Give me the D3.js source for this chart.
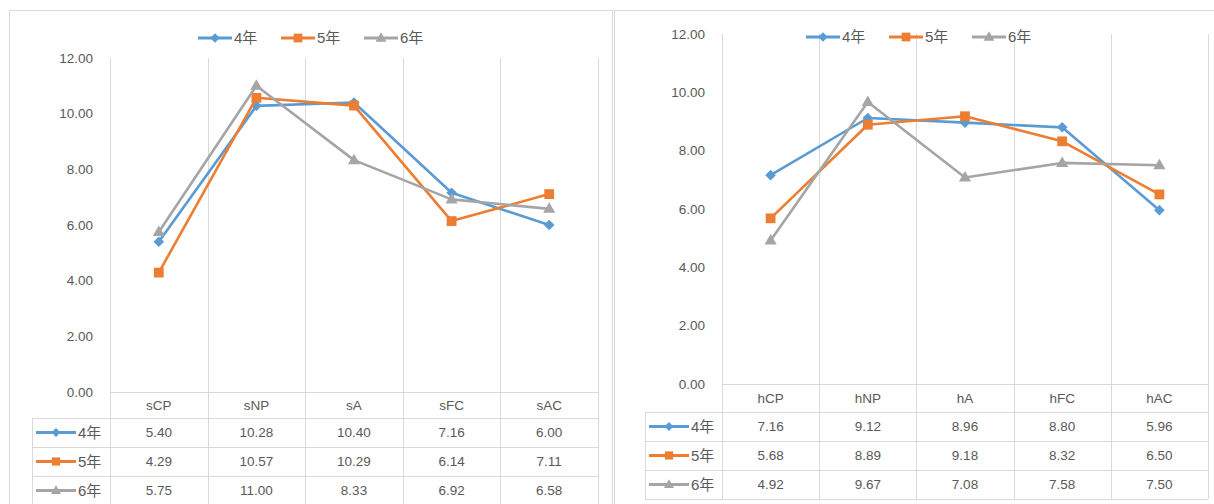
<!DOCTYPE html>
<html>
<head>
<meta charset="utf-8">
<script src="https://cdn.jsdelivr.net/npm/d3@7"></script>
<style>
  html, body { margin: 0; padding: 0; background: #ffffff; }
  svg { display: block; }
  text { font-family: "Liberation Sans", "Noto Sans CJK SC", sans-serif; fill: #595959; }
</style>
</head>
<body>
<svg id="chart" width="1214" height="504"></svg>
<script>
// Categories for the two panels
const categoriesS = ["sCP", "sNP", "sA", "sFC", "sAC"];
const categoriesH = ["hCP", "hNP", "hA", "hFC", "hAC"];

// Series names (grade)
const seriesNames = ["4年", "5年", "6年"];

// Values: s-panel
const s4 = [5.40, 10.28, 10.40, 7.16, 6.00];
const s5 = [4.29, 10.57, 10.29, 6.14, 7.11];
const s6 = [5.75, 11.00, 8.33, 6.92, 6.58];

// Values: h-panel
const h4 = [7.16, 9.12, 8.96, 8.80, 5.96];
const h5 = [5.68, 8.89, 9.18, 8.32, 6.50];
const h6 = [4.92, 9.67, 7.08, 7.58, 7.50];

// Value axis ticks
const yTicks = [0, 2, 4, 6, 8, 10, 12];

const colors = ["#5B9BD5", "#ED7D31", "#A5A5A5"];
const shapes = ["diamond", "square", "triangle"];
const gridColor = "#D9D9D9";

const svg = d3.select("#chart");

function markerPath(shape, scale) {
  const k = scale || 1;
  if (shape === "diamond") return d3.symbol(d3.symbolSquare, 56 * k)();
  if (shape === "square") return d3.symbol(d3.symbolSquare, 96 * k)();
  return d3.symbol(d3.symbolTriangle, 64 * k)();
}
function markerRotate(shape) { return shape === "diamond" ? " rotate(45)" : ""; }

function drawMarker(g, shape, color, x, y, scale) {
  const dy = shape === "triangle" ? 0.5 : 0;
  g.append("path")
    .attr("d", markerPath(shape, scale))
    .attr("transform", `translate(${x},${y + dy})` + markerRotate(shape))
    .attr("fill", color);
}

function drawPanel(cfg) {
  const g = svg.append("g");

  // panel frame
  g.append("rect")
    .attr("x", cfg.frame[0] + 0.5).attr("y", cfg.frame[1] + 0.5)
    .attr("width", cfg.frame[2]).attr("height", cfg.frame[3])
    .attr("fill", "none").attr("stroke", gridColor).attr("stroke-width", 1);

  const x = d3.scaleBand().domain(cfg.categories).range([cfg.left, cfg.right]).padding(0);
  const y = d3.scaleLinear().domain([0, 12]).range([cfg.bottom, cfg.top]);

  const rowsTop = cfg.bottom + cfg.headerH;
  const tableBottom = rowsTop + cfg.rowH * cfg.series.length;

  // vertical category separators (plot + data table)
  const edges = cfg.categories.map(c => x(c)).concat([cfg.right]);
  g.selectAll("line.vgrid").data(edges).join("line")
    .attr("x1", d => Math.round(d) + 0.5).attr("x2", d => Math.round(d) + 0.5)
    .attr("y1", cfg.top).attr("y2", tableBottom)
    .attr("stroke", gridColor).attr("stroke-width", 1);

  // data table horizontal rules
  g.append("line")
    .attr("x1", cfg.left).attr("x2", cfg.right)
    .attr("y1", Math.round(y(0)) + 0.5).attr("y2", Math.round(y(0)) + 0.5)
    .attr("stroke", gridColor);
  const rowLines = d3.range(cfg.series.length + 1).map(i => rowsTop + i * cfg.rowH);
  g.selectAll("line.hrow").data(rowLines).join("line")
    .attr("x1", cfg.tableLeft).attr("x2", cfg.right)
    .attr("y1", d => d + 0.5).attr("y2", d => d + 0.5)
    .attr("stroke", gridColor);
  g.append("line")
    .attr("x1", cfg.tableLeft + 0.5).attr("x2", cfg.tableLeft + 0.5)
    .attr("y1", rowsTop).attr("y2", tableBottom)
    .attr("stroke", gridColor);

  // value axis labels
  const axis = d3.axisLeft(y).tickValues(yTicks).tickFormat(d3.format(".2f"))
    .tickSize(0).tickPadding(cfg.left - cfg.labelRight);
  const ag = g.append("g").attr("transform", `translate(${cfg.left},0)`).call(axis);
  ag.select(".domain").remove();
  ag.selectAll("text").style("font-family", "'Liberation Sans', sans-serif")
    .style("font-size", "13.5px").attr("fill", "#595959");

  // category header row
  g.selectAll("text.cat").data(cfg.categories).join("text")
    .attr("x", d => x(d) + x.bandwidth() / 2)
    .attr("y", cfg.bottom + cfg.headerH / 2)
    .attr("dy", "0.35em").attr("text-anchor", "middle")
    .style("font-size", "13.5px")
    .text(d => d);

  // table rows: legend key + values
  cfg.series.forEach((vals, si) => {
    const cy = rowsTop + cfg.rowH * si + cfg.rowH / 2;
    const kx = cfg.tableLeft + 4;
    g.append("line")
      .attr("x1", kx).attr("x2", kx + 40).attr("y1", cy).attr("y2", cy)
      .attr("stroke", colors[si]).attr("stroke-width", 3);
    drawMarker(g, shapes[si], colors[si], kx + 20, cy, 0.7);
    g.append("text").attr("x", kx + 42).attr("y", cy).attr("dy", "0.35em")
      .style("font-size", "15px").text(seriesNames[si]);

    g.selectAll(null).data(vals).join("text")
      .attr("x", (d, i) => x(cfg.categories[i]) + x.bandwidth() / 2)
      .attr("y", cy).attr("dy", "0.35em").attr("text-anchor", "middle")
      .style("font-size", "13.5px")
      .text(d => d3.format(".2f")(d));
  });

  // series lines and markers
  const line = d3.line()
    .x((d, i) => x(cfg.categories[i]) + x.bandwidth() / 2)
    .y(d => y(d));
  cfg.series.forEach((vals, si) => {
    g.append("path").datum(vals)
      .attr("d", line).attr("fill", "none")
      .attr("stroke", colors[si]).attr("stroke-width", 2.6)
      .attr("stroke-linejoin", "round").attr("stroke-linecap", "round");
    vals.forEach((v, i) => drawMarker(g, shapes[si], colors[si],
      x(cfg.categories[i]) + x.bandwidth() / 2, y(v), 1));
  });

  // legend
  const lg = g.append("g");
  const itemW = [83, 83, 60];
  let lx = cfg.legendX;
  seriesNames.forEach((name, si) => {
    lg.append("line").attr("x1", lx).attr("x2", lx + 34)
      .attr("y1", cfg.legendY).attr("y2", cfg.legendY)
      .attr("stroke", colors[si]).attr("stroke-width", 3);
    drawMarker(lg, shapes[si], colors[si], lx + 17, cfg.legendY, 0.8);
    lg.append("text").attr("x", lx + 36).attr("y", cfg.legendY).attr("dy", "0.35em")
      .style("font-size", "15px").text(name);
    lx += itemW[si];
  });
}

drawPanel({
  frame: [9, 10, 603, 520],
  categories: categoriesS,
  series: [s4, s5, s6],
  left: 110, right: 598, top: 58, bottom: 392,
  headerH: 26, rowH: 29, tableLeft: 32,
  labelRight: 93,
  legendX: 198, legendY: 38
});

drawPanel({
  frame: [614, 10, 620, 520],
  categories: categoriesH,
  series: [h4, h5, h6],
  left: 722, right: 1208, top: 34, bottom: 384,
  headerH: 28, rowH: 29, tableLeft: 645,
  labelRight: 705,
  legendX: 806, legendY: 37
});
</script>
</body>
</html>
